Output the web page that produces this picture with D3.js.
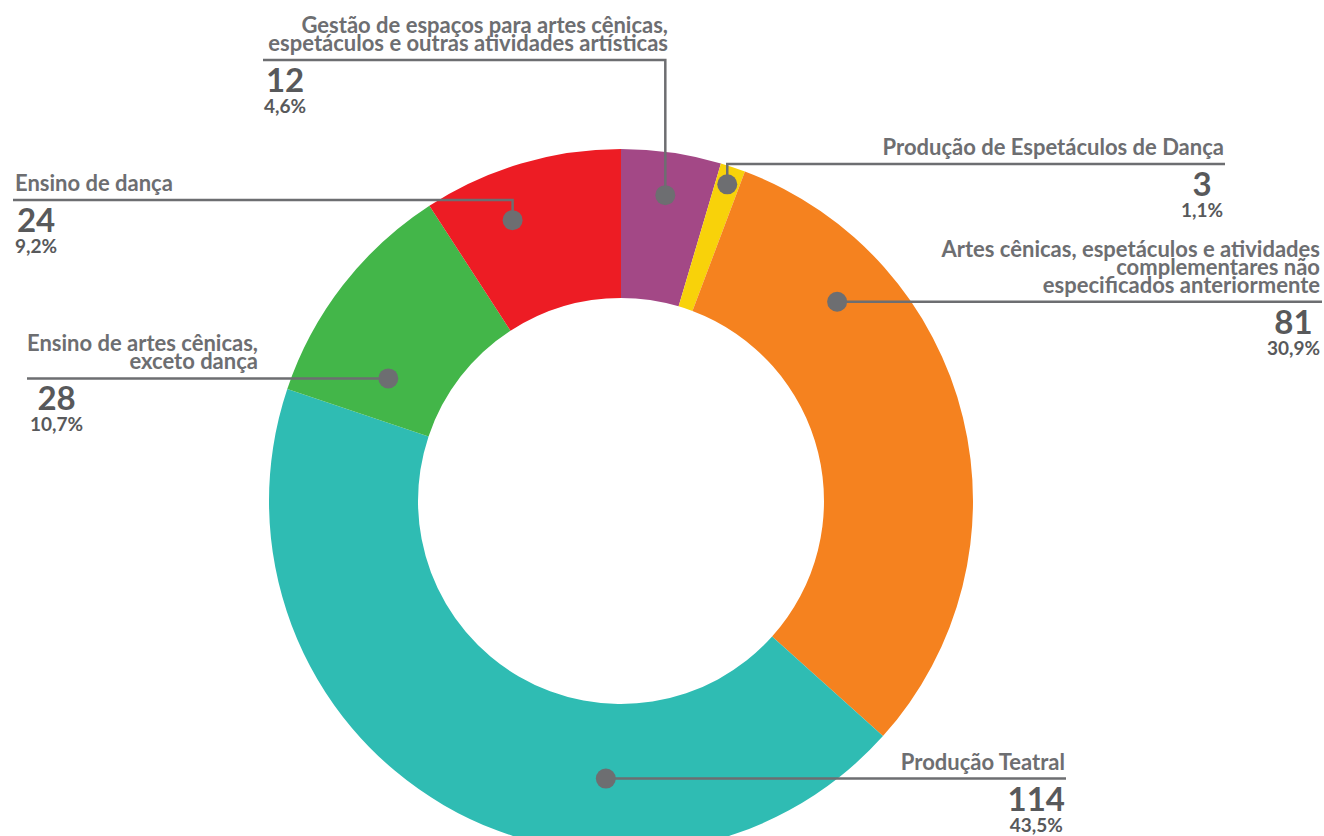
<!DOCTYPE html>
<html>
<head>
  <meta charset="utf-8">
  <title>Artes cênicas</title>
  <style>
    body { margin: 0; background: #fff; }
    svg { display: block; }
    .lbl { font: 700 22px Lato, sans-serif; fill: #6d6e71; }
    .num { font: 700 33px Lato, sans-serif; fill: #58595b; }
    .pct { font: 700 19px Lato, sans-serif; fill: #58595b; }
    .leader { fill: none; stroke: #6d6e71; stroke-width: 2.5px; }
  </style>
</head>
<body>
  <script src="https://d3js.org/d3.v7.min.js"></script>
  <script>
    // data
    const categories = [
      "Gestão de espaços para artes cênicas,\nespetáculos e outras atividades artísticas",
      "Produção de Espetáculos de Dança",
      "Artes cênicas, espetáculos e atividades\ncomplementares não\nespecificados anteriormente",
      "Produção Teatral",
      "Ensino de artes cênicas,\nexceto dança",
      "Ensino de dança"
    ];
    const values = [12, 3, 81, 114, 28, 24];
    const percents = ["4,6%", "1,1%", "30,9%", "43,5%", "10,7%", "9,2%"];
    const colors = ["#a34886", "#f8d20a", "#f5821f", "#2fbcb3", "#43b649", "#ed1c24"];

    // label placement: dot position inside slice (t = fraction of angle, r = radius),
    // leader elbow y (null = straight), far end of leader, text alignment
    const labelLayout = [
      { t: 0.50, r: 309, elbowY: 60,   endX: 263,  textX: 668,  anchor: "end",   blockX: 264,  side: "left" },
      { t: 0.50, r: 334, elbowY: 164,  endX: 1225, textX: 1224, anchor: "end",   blockX: 1223, side: "right" },
      { t: 0.24, r: 294, elbowY: null, endX: 1322, textX: 1320, anchor: "end",   blockX: 1320, side: "right" },
      { t: 0.327, r: 278, elbowY: null, endX: 1066, textX: 1065, anchor: "end",  blockX: 1065, side: "right" },
      { t: 0.24, r: 263, elbowY: null, endX: 27,   textX: 258,  anchor: "end",   blockX: 30,   side: "left" },
      { t: 0.36, r: 301, elbowY: 200,  endX: 13,   textX: 15,   anchor: "start", blockX: 15,   side: "left" }
    ];

    const width = 1324, height = 836;
    const cx = 621, cy = 501, outerR = 352, innerR = 203;

    const svg = d3.select("body").append("svg")
      .attr("width", width).attr("height", height);

    const pie = d3.pie().value(d => d).sort(null);
    const arcs = pie(values);
    const arc = d3.arc().innerRadius(innerR).outerRadius(outerR);

    const g = svg.append("g").attr("transform", `translate(${cx},${cy})`);
    g.selectAll("path.slice")
      .data(arcs)
      .join("path")
      .attr("class", "slice")
      .attr("d", arc)
      .attr("fill", (d, i) => colors[i]);

    // leaders + labels
    arcs.forEach((a, i) => {
      const L = labelLayout[i];
      const ang = a.startAngle + L.t * (a.endAngle - a.startAngle);
      const dx = cx + L.r * Math.sin(ang);
      const dy = cy - L.r * Math.cos(ang);
      const lineY = L.elbowY === null ? dy : L.elbowY;

      const path = d3.path();
      path.moveTo(dx, dy);
      if (L.elbowY !== null) path.lineTo(dx, lineY);
      path.lineTo(L.endX, lineY);
      svg.append("path").attr("class", "leader").attr("d", path.toString());
      svg.append("circle").attr("cx", dx).attr("cy", dy).attr("r", 10).attr("fill", "#6d6e71");

      const lines = categories[i].split("\n");
      const txt = svg.append("text").attr("class", "lbl").attr("text-anchor", L.anchor);
      lines.forEach((ln, k) => {
        txt.append("tspan")
          .attr("x", L.textX)
          .attr("y", lineY - 9 - (lines.length - 1 - k) * 18)
          .text(ln);
      });

      const num = svg.append("text").attr("class", "num").attr("text-anchor", "middle")
        .attr("y", lineY + 32).text(values[i]);
      const pct = svg.append("text").attr("class", "pct").attr("text-anchor", "middle")
        .attr("y", lineY + 53).text(percents[i]);
      const w = Math.max(num.node().getComputedTextLength(), pct.node().getComputedTextLength());
      const mid = L.side === "left" ? L.blockX + w / 2 : L.blockX - w / 2;
      num.attr("x", mid);
      pct.attr("x", mid);
    });
  </script>
</body>
</html>
